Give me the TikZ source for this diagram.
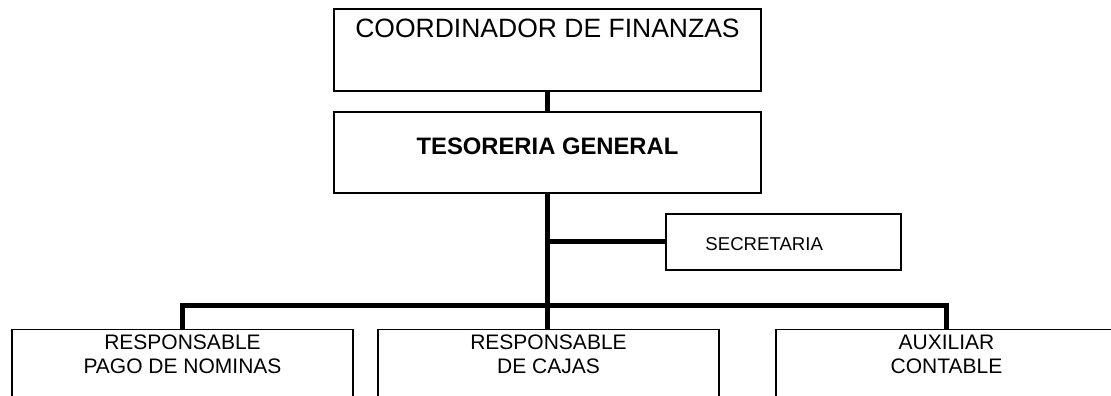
\documentclass[tikz,border=0pt]{standalone}
\usepackage{fontspec}
\setmainfont{Liberation Sans}
\usetikzlibrary{positioning,calc}
\tikzset{
  box/.style={draw=black,line width=1.5pt,inner sep=0pt,fill=white},
  lab/.style={inner sep=0pt,align=center,font=\fontsize{21}{24}\selectfont},
  conn/.style={draw=black,line width=5pt},
}
\begin{document}
\begin{tikzpicture}[x=1pt,y=1pt]
\useasboundingbox (0,0) rectangle (1111,396);
\clip (0,0) rectangle (1111,396);
% upper boxes
\node[box,minimum width=427pt,minimum height=82pt] (coo) at (547.5,346) {};
\node[box,minimum width=427pt,minimum height=81pt] (tes) at (547.5,243.5) {};
\node[box,minimum width=235pt,minimum height=56pt] (sec) at (783.5,154) {};
\node[lab,font=\fontsize{26.5}{30}\selectfont,below=11pt of coo.north] (coot) {COORDINADOR DE FINANZAS};
\node[lab,font=\bfseries\fontsize{23.8}{28}\selectfont,anchor=center] (test) at ($(tes.center)+(0,6.5)$) {TESORERIA GENERAL};
\node[lab,font=\fontsize{18.6}{21}\selectfont,anchor=base west] (sect) at ($(sec.west)+(40,-9)$) {SECRETARIA};
% lower boxes
\node[box,minimum width=341pt,minimum height=90pt,anchor=north] (nom) at (182.5,67) {};
\node[box,minimum width=341pt,minimum height=90pt,anchor=north] (caj) at (548.5,67) {};
\node[box,minimum width=341pt,minimum height=90pt,anchor=north] (aux) at (946.5,67) {};
\node[lab,below=6pt of nom.north] (nomt) {RESPONSABLE\\PAGO DE NOMINAS};
\node[lab,below=6pt of caj.north] (cajt) {RESPONSABLE\\DE CAJAS};
\node[lab,below=6pt of aux.north] (auxt) {AUXILIAR\\CONTABLE};
% connectors
\coordinate (bus) at (547.5,90);
\draw[conn] (coo.south) -- (tes.north);
\draw[conn] (tes.south) -- (tes.south |- caj.north);
\draw[conn] (tes.south |- sec.west) -- (sec.west);
\draw[conn] (nom.north) |- (bus) -| (aux.north);
\end{tikzpicture}
\end{document}
